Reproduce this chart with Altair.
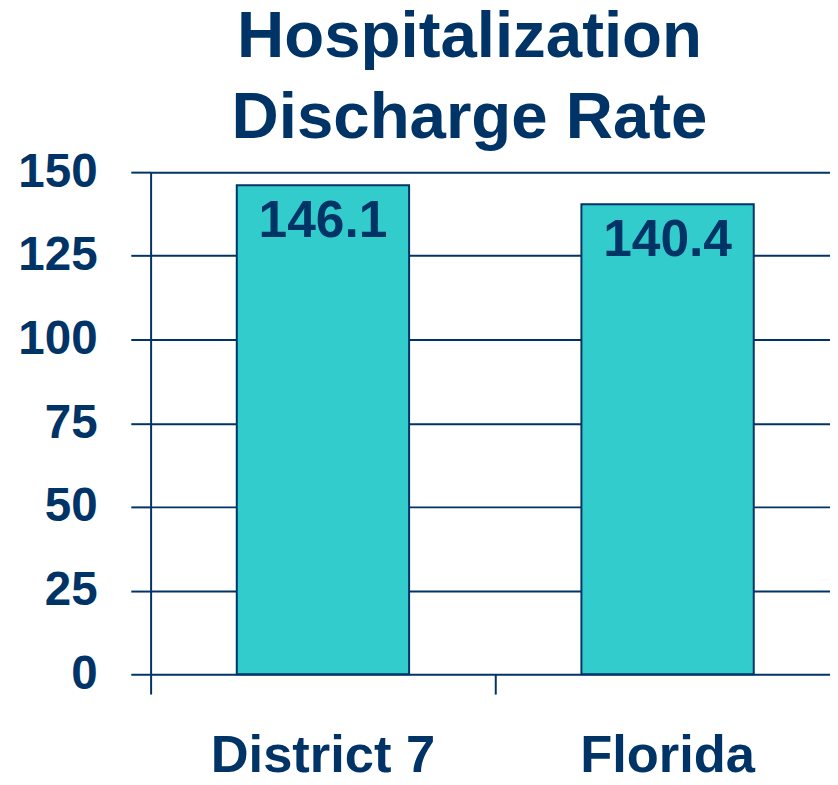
import altair as alt
import pandas as pd

categories = ["District 7", "Florida"]
rates = [146.1, 140.4]
label_text = ["146.1", "140.4"]
y_ticks = [0, 25, 50, 75, 100, 125, 150]

df = pd.DataFrame({"region": categories, "rate": rates, "label": label_text})

NAVY = "#003366"
TEAL = "#33CCCC"
FONT = "Liberation Sans"

xscale = alt.Scale(range=[0, 696], paddingInner=0, paddingOuter=0)

# axis drawing only the boundary ticks (at 0 and between the two categories)
tick_axis = alt.Axis(orient="bottom", values=[categories[0]], labels=False, domain=False,
                     grid=False, tickBand="extent", tickSize=20, tickWidth=2, tickColor=NAVY)
# axis drawing only the category labels
label_axis = alt.Axis(orient="bottom", labelAngle=0, labelFontSize=53, labelFont=FONT,
                      labelFontWeight="bold", labelColor=NAVY, labelPadding=56, labelLimit=600,
                      ticks=False, tickSize=0, domain=False, grid=False)

y = alt.Y("rate:Q", title=None,
          scale=alt.Scale(domain=[0, 150], nice=False),
          axis=alt.Axis(values=y_ticks, labelFontSize=48, labelFont=FONT, labelFontWeight="bold",
                        labelColor=NAVY, labelPadding=34, tickSize=20, tickWidth=2, tickColor=NAVY,
                        domainColor=NAVY, domainWidth=2, grid=True, gridColor=NAVY, gridWidth=2,
                        gridOpacity=1))

bars = alt.Chart(df).mark_bar(color=TEAL, stroke=NAVY, strokeWidth=2,
                              width=alt.RelativeBandSize(0.5)).encode(
    x=alt.X("region:N", sort=categories, title=None, scale=xscale, axis=tick_axis), y=y)
labels = alt.Chart(df).mark_text(baseline="top", dy=11, fontSize=52, font=FONT,
                                 fontWeight="bold", color=NAVY).encode(
    x=alt.X("region:N", sort=categories, title=None, scale=xscale, axis=label_axis),
    y="rate:Q", text="label:N")

chart = alt.layer(bars, labels).resolve_axis(x="independent").properties(
    width=686, height=507,
    autosize=alt.AutoSizeParams(type="none"),
    title=alt.TitleParams(["Hospitalization", "Discharge Rate"], fontSize=66, font=FONT,
                          fontWeight="bold", color=NAVY, anchor="middle", frame="group",
                          lineHeight=82, dx=-21, offset=-4),
    padding={"left": 144, "top": 162, "right": 0, "bottom": 100},
).configure_view(stroke=None)

chart.save("out.html", embed_options={"renderer": "svg", "actions": False})
